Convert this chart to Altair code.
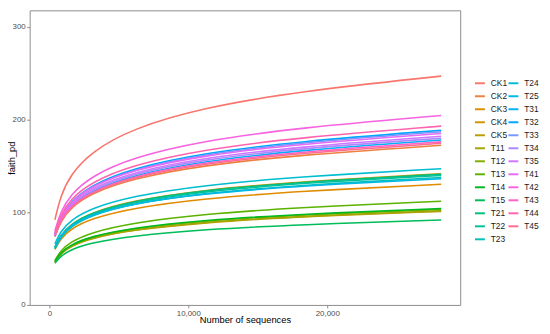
import math
import altair as alt
import pandas as pd

series = ["CK1", "CK2", "CK3", "CK4", "CK5",
          "T11", "T12", "T13", "T14", "T15",
          "T21", "T22", "T23", "T24", "T25",
          "T31", "T32", "T33", "T34", "T35",
          "T41", "T42", "T43", "T44", "T45"]

depth = [400, 800, 1500, 3000, 6000, 11000, 18000, 28200]

CK1 = [92, 117.3, 140.2, 165.3, 190.6, 212.7, 230.6, 247]
CK2 = [74, 90.0, 104.6, 120.5, 136.5, 150.6, 161.9, 172.3]
CK3 = [60, 71.4, 81.8, 93.2, 104.6, 114.7, 122.8, 130.2]
CK4 = [62, 75.0, 86.7, 99.6, 112.6, 123.9, 133.1, 141.5]
CK5 = [46, 55.0, 63.1, 72.0, 81.0, 88.8, 95.2, 101]
T11 = [46.5, 55.5, 63.6, 72.5, 81.5, 89.3, 95.7, 101.5]
T12 = [47, 56.1, 64.4, 73.5, 82.6, 90.6, 97.1, 103]
T13 = [48, 58.4, 67.9, 78.3, 88.7, 97.9, 105.2, 112]
T14 = [47, 56.3, 64.7, 74.0, 83.3, 91.4, 98.0, 104]
T15 = [45, 52.6, 59.5, 67.0, 74.6, 81.3, 86.7, 91.6]
T21 = [62, 74.9, 86.6, 99.4, 112.2, 123.5, 132.6, 141]
T22 = [61, 73.8, 85.5, 98.2, 111.1, 122.3, 131.4, 139.7]
T23 = [60.5, 73.1, 84.4, 96.9, 109.5, 120.5, 129.3, 137.5]
T24 = [66, 79.2, 91.2, 104.3, 117.5, 129.1, 138.4, 147]
T25 = [63, 74.9, 85.8, 97.6, 109.6, 120.0, 128.4, 136.2]
T31 = [74, 91.0, 106.3, 123.2, 140.1, 155.0, 167.0, 178]
T32 = [76, 94.3, 111.0, 129.2, 147.6, 163.6, 176.6, 188.5]
T33 = [75.5, 93.7, 110.2, 128.2, 146.4, 162.4, 175.2, 187]
T34 = [75, 92.1, 107.7, 124.7, 141.8, 156.8, 168.9, 180]
T35 = [76, 93.3, 109.0, 126.1, 143.4, 158.6, 170.8, 182]
T41 = [77, 94.6, 110.6, 128.1, 145.7, 161.1, 173.6, 185]
T42 = [80, 100.3, 118.7, 138.9, 159.2, 177.0, 191.3, 204.5]
T43 = [74.5, 91.0, 106.1, 122.5, 139.1, 153.6, 165.2, 176]
T44 = [78, 96.7, 113.8, 132.4, 151.1, 167.6, 180.8, 193]
T45 = [74, 90.4, 105.3, 121.5, 137.9, 152.3, 163.8, 174.5]

values = [CK1, CK2, CK3, CK4, CK5, T11, T12, T13, T14, T15,
          T21, T22, T23, T24, T25, T31, T32, T33, T34, T35,
          T41, T42, T43, T44, T45]

x_ticks = [0, 10000, 20000]
y_ticks = [0, 100, 200, 300]


def hcl_hex(h, c=100.0, l=65.0):
    hr = math.radians(h)
    u = c * math.cos(hr)
    v = c * math.sin(hr)
    Xn, Yn, Zn = 95.047, 100.0, 108.883
    Y = Yn * ((l + 16) / 116) ** 3
    den = Xn + 15 * Yn + 3 * Zn
    un = 4 * Xn / den
    vn = 9 * Yn / den
    up = u / (13 * l) + un
    vp = v / (13 * l) + vn
    X = 9.0 * Y * up / (4 * vp)
    Z = -X / 3 - 5 * Y + 3 * Y / vp
    X, Y, Z = X / 100, Y / 100, Z / 100
    rgb = [3.240479 * X - 1.537150 * Y - 0.498535 * Z,
           -0.969256 * X + 1.875992 * Y + 0.041556 * Z,
           0.055648 * X - 0.204043 * Y + 1.057311 * Z]
    out = []
    for t in rgb:
        if t <= 0:
            t = 0.0
        elif t <= 0.0031308:
            t = 12.92 * t
        else:
            t = 1.055 * (t ** (1 / 2.4)) - 0.055
        t = min(max(t, 0), 1)
        out.append(int(round(t * 255)))
    return "#%02X%02X%02X" % tuple(out)


colors = [hcl_hex(15 + i * 360 / len(series)) for i in range(len(series))]

rows = []
for name, vals in zip(series, values):
    for d, v in zip(depth, vals):
        rows.append({"series": name, "seq": d, "pd": v})
df = pd.DataFrame(rows)

g1 = series[:13]
g2 = series[13:]

FONT = "Liberation Sans"

xenc = alt.X("seq:Q",
             scale=alt.Scale(domain=[-1418, 29570], nice=False, zero=False),
             axis=alt.Axis(values=x_ticks, labelExpr="format(datum.value, ',')",
                           title="Number of sequences", grid=False,
                           titleY=17.5, titleBaseline="alphabetic"))
yenc = alt.Y("pd:Q",
             scale=alt.Scale(domain=[0, 318], nice=False),
             axis=alt.Axis(values=y_ticks, title="faith_pd", grid=False,
                           titleX=-13, titleBaseline="bottom"))

leg_common = dict(orient="none", title=None, symbolType="stroke", symbolSize=100,
                  symbolStrokeWidth=2, labelFontSize=8.5, rowPadding=2.2,
                  labelOffset=5, padding=0, labelFont=FONT, labelColor="#1a1a1a")

base = alt.Chart(df).mark_line(interpolate="basis", strokeWidth=1.6, clip=True)

l1 = base.transform_filter(
    alt.FieldOneOfPredicate(field="series", oneOf=g1)
).encode(
    x=xenc, y=yenc,
    color=alt.Color("series:N", scale=alt.Scale(domain=g1, range=colors[:13]),
                    legend=alt.Legend(legendX=451, legendY=68, **leg_common)),
)

l2 = base.transform_filter(
    alt.FieldOneOfPredicate(field="series", oneOf=g2)
).encode(
    x=xenc, y=yenc,
    stroke=alt.Stroke("series:N", scale=alt.Scale(domain=g2, range=colors[13:]),
                      legend=alt.Legend(legendX=485, legendY=68, **leg_common)),
)

chart = alt.layer(l1, l2).properties(
    width=437, height=299,
    autosize=alt.AutoSizeParams(type="none"),
    padding={"left": 22, "top": 0, "right": 83, "bottom": 19},
).configure_view(
    stroke="#8c8c8c", strokeWidth=1
).configure_axis(
    domain=False, tickColor="#8c8c8c", tickSize=3, labelColor="#4d4d4d",
    labelFontSize=8, labelFont=FONT, titleFont=FONT, titleFontSize=9.5,
    titleFontWeight="normal", titleColor="#000000", labelPadding=1.5,
)

chart.save("out.html", embed_options={"renderer": "svg", "actions": False})
